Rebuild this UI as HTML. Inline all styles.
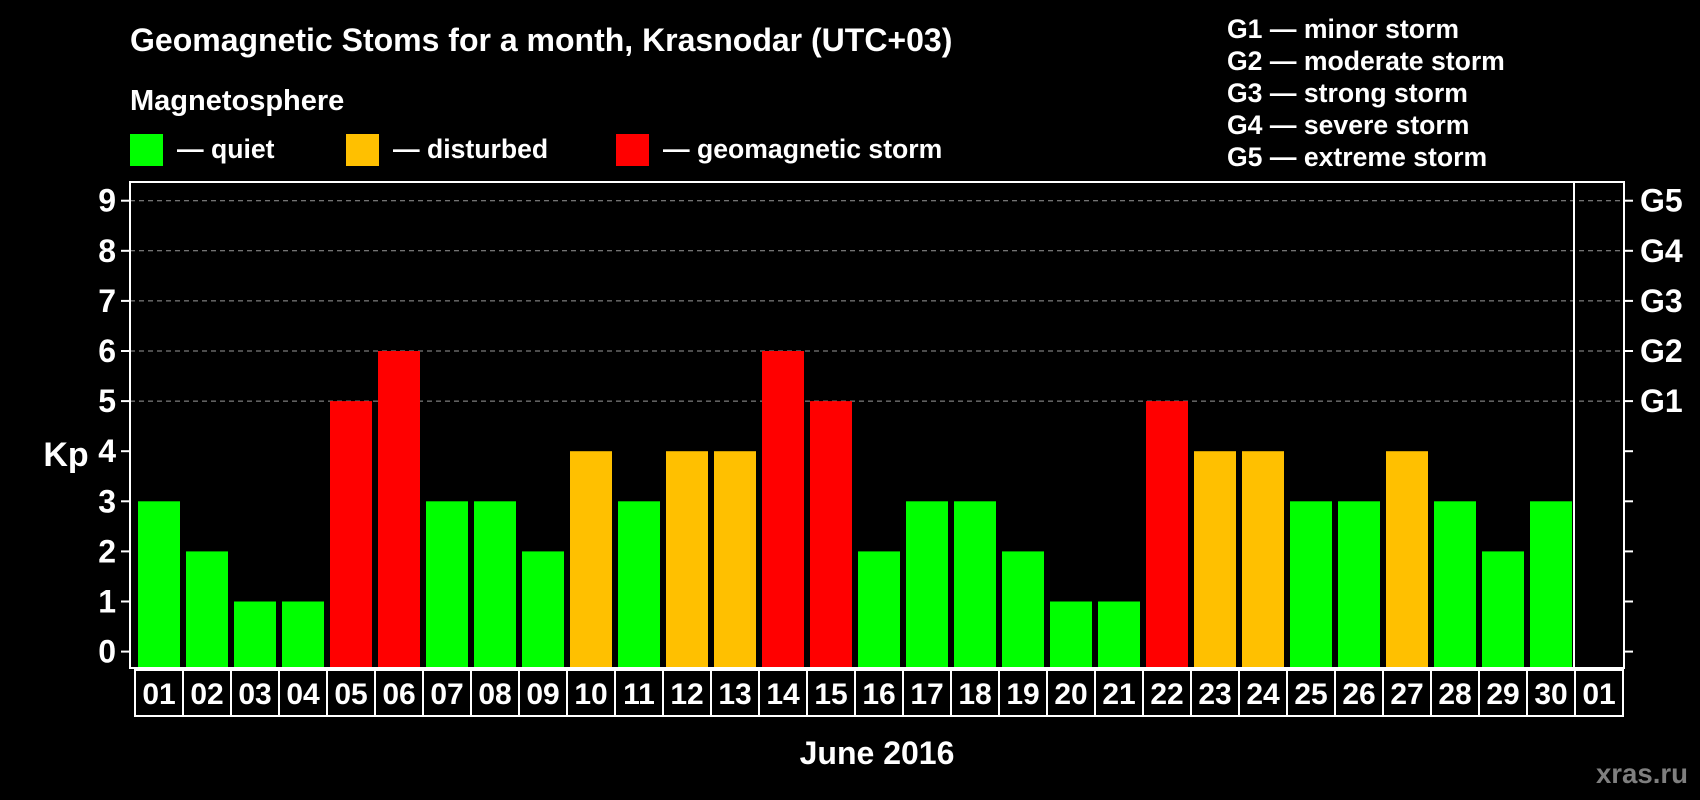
<!DOCTYPE html>
<html><head><meta charset="utf-8"><style>
body{margin:0;background:#000;width:1700px;height:800px;overflow:hidden}
svg{display:block;font-family:"Liberation Sans",Arial,sans-serif;font-weight:bold}
</style></head><body>
<svg width="1700" height="800">
<rect width="1700" height="800" fill="#000"/>
<text x="130" y="51" fill="#fff" font-size="32">Geomagnetic Stoms for a month, Krasnodar (UTC+03)</text>
<text x="130" y="110" fill="#fff" font-size="29">Magnetosphere</text>
<g><rect x="130" y="134" width="33" height="32" fill="#00ff00"/><text x="177" y="158" fill="#fff" font-size="26.6">— quiet</text></g>
<g><rect x="346" y="134" width="33" height="32" fill="#ffc000"/><text x="393" y="158" fill="#fff" font-size="26.6">— disturbed</text></g>
<g><rect x="616" y="134" width="33" height="32" fill="#ff0000"/><text x="663" y="158" fill="#fff" font-size="26.6">— geomagnetic storm</text></g>
<g fill="#fff" font-size="26.6">
<text x="1227" y="38">G1 — minor storm</text>
<text x="1227" y="70">G2 — moderate storm</text>
<text x="1227" y="102">G3 — strong storm</text>
<text x="1227" y="134">G4 — severe storm</text>
<text x="1227" y="166">G5 — extreme storm</text>
</g>
<g id="grid"></g><g id="bars"></g><g id="axes"></g>
<text x="66" y="466" fill="#fff" font-size="34" text-anchor="middle">Kp</text>
<text x="877" y="764" fill="#fff" font-size="32" text-anchor="middle">June 2016</text>
<text x="1688" y="783" fill="#7f7f7f" font-size="27.6" text-anchor="end">xras.ru</text>
</svg>
<script>
const days=["01","02","03","04","05","06","07","08","09","10","11","12","13","14","15","16","17","18","19","20","21","22","23","24","25","26","27","28","29","30","01"];
const kp=[3,2,1,1,5,6,3,3,2,4,3,4,4,6,5,2,3,3,2,1,1,5,4,4,3,3,4,3,2,3];
const yTicks=[0,1,2,3,4,5,6,7,8,9];
const gLabels=["","","","","","G1","G2","G3","G4","G5"];
const NS="http://www.w3.org/2000/svg";
const L=130,R=1624,T=182,B=668,X0=135,P=48;
const y=v=>651.6-v*50.1;
const x=i=>X0+i*P;
function mk(tag,at,parent){const e=document.createElementNS(NS,tag);for(const k in at)e.setAttribute(k,at[k]);document.getElementById(parent).appendChild(e);return e;}
const col=v=>v>=5?"#ff0000":(v>=4?"#ffc000":"#00ff00");
yTicks.forEach(t=>{
 if(t>=5){const g=mk("line",{x1:L,x2:R,y1:y(t),y2:y(t),stroke:"#999","stroke-dasharray":"5,4","stroke-width":1},"grid");
 
 }
 const a=mk("line",{x1:121,x2:L,y1:y(t),y2:y(t),stroke:"#fff","stroke-width":2},"axes");
 
 
 const b=mk("line",{x1:R,x2:1633,y1:y(t),y2:y(t),stroke:"#fff","stroke-width":2},"axes");
 
 
 const tl=mk("text",{x:116,y:y(t)+11,fill:"#fff","font-size":32,"text-anchor":"end"},"axes");tl.textContent=t;
 
 
 if(gLabels[t]){const gl=mk("text",{x:1640,y:y(t)+11,fill:"#fff","font-size":32},"axes");gl.textContent=gLabels[t];
 
 }
});
kp.forEach((v,i)=>{
 const r=mk("rect",{x:x(i)+3,y:y(v),width:42,height:B-y(v),fill:col(v)},"bars");
 
 
});
const fr=mk("rect",{x:L,y:T,width:R-L,height:B-T,fill:"none",stroke:"#fff","stroke-width":2},"axes");


const vl=mk("line",{x1:x(30)-1,x2:x(30)-1,y1:T,y2:B,stroke:"#fff","stroke-width":2},"axes");


days.forEach((d,i)=>{
 const c=mk("rect",{x:x(i),y:670,width:P,height:46,fill:"none",stroke:"#fff","stroke-width":2},"axes");
 
 
 const t=mk("text",{x:x(i)+P/2,y:704,fill:"#fff","font-size":30,"text-anchor":"middle"},"axes");t.textContent=d;
 
 
});
</script>
</body></html>
